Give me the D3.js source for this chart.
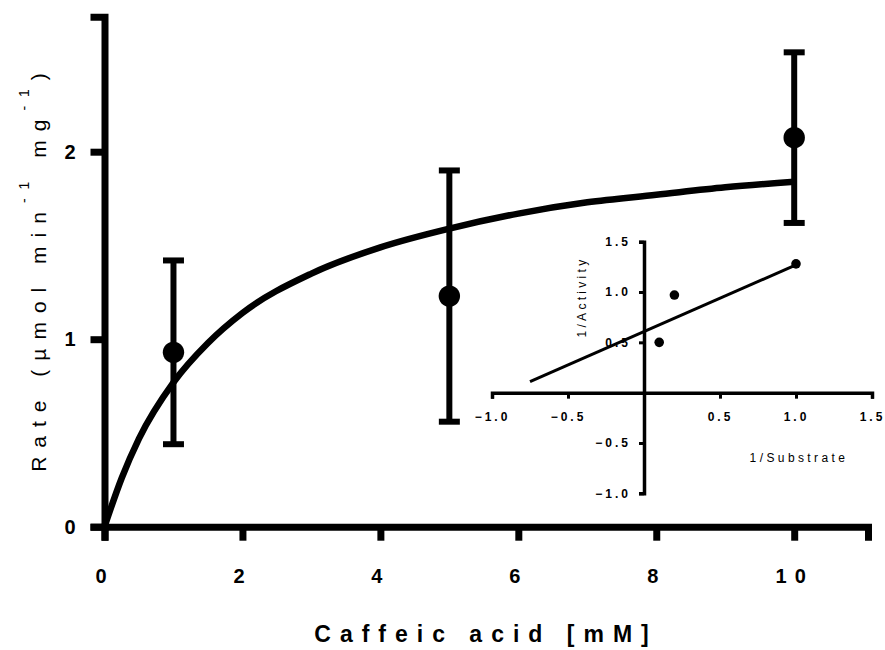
<!DOCTYPE html>
<html>
<head>
<meta charset="utf-8">
<script src="https://cdn.jsdelivr.net/npm/d3@7"></script>
<style>
  body { margin: 0; background: #fff; }
  svg { display: block; font-family: "Liberation Sans", Arial, sans-serif; }
</style>
</head>
<body>
<svg id="chart" width="885" height="650"></svg>
<script>
// main plot: caffeic acid concentration vs rate (mean +/- SD)
var conc = [1, 5, 10];
var rateMean = [0.93, 1.23, 2.075];
var rateSD = [0.49, 0.67, 0.455];
var xTicks = [0, 2, 4, 6, 8, 10];
var yTicks = [0, 1, 2];

// fitted saturation curve
var fitX = [0, 0.25, 0.5, 1, 1.5, 2, 3, 4, 5, 6, 7, 8, 9, 10];
var fitY = [0, 0.26, 0.47, 0.77, 0.98, 1.14, 1.35, 1.49, 1.59, 1.67, 1.73, 1.77, 1.81, 1.84];

// inset: double reciprocal plot
var invS = [0.1, 0.2, 1.0];
var invV = [0.5, 0.97, 1.28];
var lineX = [-0.75, 1.0];
var lineY = [0.11, 1.27];
var insetTicks = [-1.0, -0.5, 0.5, 1.0, 1.5];

document.addEventListener('DOMContentLoaded', function() {
  drawMain();
  drawInset();
});

function drawMain() {
  var svg = d3.select('#chart');

  var x = d3.scaleLinear().domain([0, 11.07]).range([104.5, 868]);
  var y = d3.scaleLinear().domain([0, 2.72]).range([526.7, 16.7]);

  var gx = svg.append("g")
      .attr("transform", "translate(0," + y(0) + ")")
      .call(d3.axisBottom(x).tickValues(xTicks).tickSizeOuter(0).tickSize(14).tickPadding(28)
        .tickFormat(d3.format("d")));
  var gy = svg.append("g")
      .attr("transform", "translate(" + x(0) + ",0)")
      .call(d3.axisLeft(y).tickValues(yTicks).tickSizeOuter(0).tickSize(14).tickPadding(15)
        .tickFormat(d3.format("d")));

  [gx, gy].forEach(function(g) {
    g.select(".domain").attr("stroke", "#000").attr("stroke-width", 7);
    g.selectAll(".tick line").attr("stroke", "#000").attr("stroke-width", 7);
    g.selectAll(".tick text")
      .attr("fill", "#000")
      .style("font-size", "20px")
      .style("font-weight", "bold")
      .style("font-family", '"Liberation Sans", Arial, sans-serif');
  });
  gx.selectAll(".tick text").style("letter-spacing", "8px");

  // fitted curve
  var fit = fitX.map(function(d, i) { return [d, fitY[i]]; });
  svg.append("path")
      .datum(fit)
      .attr("fill", "none")
      .attr("stroke", "#000")
      .attr("stroke-width", 6.5)
      .attr("d", d3.line()
        .x(function(d) { return x(d[0]); })
        .y(function(d) { return y(d[1]); })
        .curve(d3.curveMonotoneX));

  // error bars + points
  var pts = conc.map(function(d, i) { return { x: d, m: rateMean[i], sd: rateSD[i] }; });
  var eb = svg.append("g").attr("stroke", "#000").attr("stroke-width", 6);
  eb.selectAll("line.stem").data(pts).enter().append("line")
      .attr("x1", function(d) { return x(d.x); })
      .attr("x2", function(d) { return x(d.x); })
      .attr("y1", function(d) { return y(d.m + d.sd); })
      .attr("y2", function(d) { return y(d.m - d.sd); });
  eb.selectAll("line.capt").data(pts).enter().append("line")
      .attr("x1", function(d) { return x(d.x) - 10.5; })
      .attr("x2", function(d) { return x(d.x) + 10.5; })
      .attr("y1", function(d) { return y(d.m + d.sd); })
      .attr("y2", function(d) { return y(d.m + d.sd); });
  eb.selectAll("line.capb").data(pts).enter().append("line")
      .attr("x1", function(d) { return x(d.x) - 10.5; })
      .attr("x2", function(d) { return x(d.x) + 10.5; })
      .attr("y1", function(d) { return y(d.m - d.sd); })
      .attr("y2", function(d) { return y(d.m - d.sd); });

  svg.append("g").selectAll("circle").data(pts).enter().append("circle")
      .attr("cx", function(d) { return x(d.x); })
      .attr("cy", function(d) { return y(d.m); })
      .attr("r", 10.7)
      .attr("fill", "#000");

  // axis titles
  svg.append("text")
      .attr("x", 486)
      .attr("y", 642)
      .attr("text-anchor", "middle")
      .style("font-size", "23px")
      .style("font-weight", "bold")
      .style("letter-spacing", "9px")
      .text("Caffeic acid [mM]");

  var yt = svg.append("text")
      .attr("transform", "translate(46,268) rotate(-90)")
      .attr("text-anchor", "middle")
      .style("font-size", "21px")
      .style("letter-spacing", "9px");
  yt.append("tspan").text("Rate (\u00b5mol min");
  yt.append("tspan").attr("dy", -17).style("font-size", "14px").text("-1");
  yt.append("tspan").attr("dy", 17).text(" mg");
  yt.append("tspan").attr("dy", -17).style("font-size", "14px").text("-1");
  yt.append("tspan").attr("dy", 17).text(")");
}

function drawInset() {
  var svg = d3.select('#chart');
  var x = d3.scaleLinear().domain([-1, 1.5]).range([492, 872]);
  var y = d3.scaleLinear().domain([-1, 1.5]).range([493.3, 241.7]);
  var fmt = d3.format(".1f");

  var gx = svg.append("g")
      .attr("transform", "translate(0," + y(0) + ")")
      .call(d3.axisBottom(x).tickValues(insetTicks).tickSizeOuter(0).tickSize(6).tickPadding(14)
        .tickFormat(fmt));
  var gy = svg.append("g")
      .attr("transform", "translate(" + x(0) + ",0)")
      .call(d3.axisLeft(y).tickValues(insetTicks).tickSizeOuter(0).tickSize(5).tickPadding(8)
        .tickFormat(fmt));

  [gx, gy].forEach(function(g) {
    g.select(".domain").attr("stroke", "#000").attr("stroke-width", 3.5);
    g.selectAll(".tick line").attr("stroke", "#000").attr("stroke-width", 3);
    g.selectAll(".tick text")
      .attr("fill", "#000")
      .style("font-size", "12px")
      .style("font-weight", "bold")
      .style("letter-spacing", "3px")
      .style("font-family", '"Liberation Sans", Arial, sans-serif');
  });

  svg.append("line")
      .attr("x1", x(lineX[0])).attr("y1", y(lineY[0]))
      .attr("x2", x(lineX[1])).attr("y2", y(lineY[1]))
      .attr("stroke", "#000")
      .attr("stroke-width", 3);

  svg.append("g").selectAll("circle").data(invS).enter().append("circle")
      .attr("cx", function(d) { return x(d); })
      .attr("cy", function(d, i) { return y(invV[i]); })
      .attr("r", 4.8)
      .attr("fill", "#000");

  svg.append("text")
      .attr("transform", "translate(586,297) rotate(-90)")
      .attr("text-anchor", "middle")
      .style("font-size", "12px")
      .style("letter-spacing", "3.3px")
      .text("1/Activity");

  svg.append("text")
      .attr("x", 799)
      .attr("y", 462)
      .attr("text-anchor", "middle")
      .style("font-size", "12px")
      .style("letter-spacing", "3.4px")
      .text("1/Substrate");
}
</script>
</body>
</html>
